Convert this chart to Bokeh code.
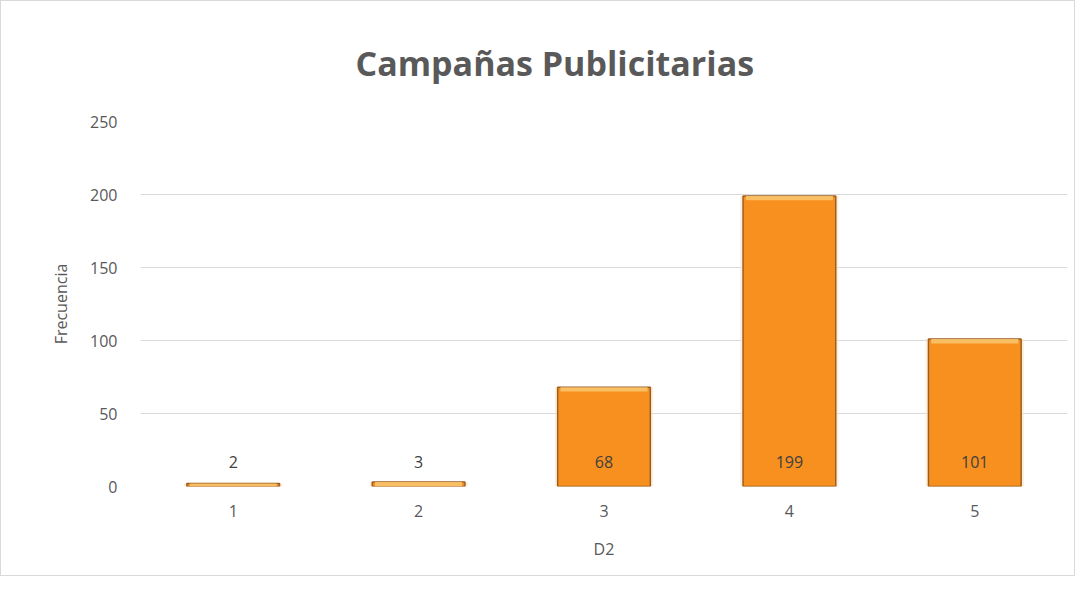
from bokeh.plotting import figure
from bokeh.models import ColumnDataSource, Range1d, FactorRange, LabelSet
from bokeh.core.properties import value
from bokeh.embed import file_html
from bokeh.resources import INLINE

categories = ["1", "2", "3", "4", "5"]
values = [2, 3, 68, 199, 101]
y_ticks = [0, 50, 100, 150, 200, 250]

title_text = "Campañas Publicitarias"
x_title = "D2"
y_title = "Frecuencia"

FONT = "Open Sans"

src = ColumnDataSource(dict(
    cat=categories,
    val=values,
    lbl=[str(v) for v in values],
    hi_bottom=[max(v - 3, 0) for v in values],
    lbl_y=[0] * len(values),
))

W, H = 1075, 576
ML, MR, MT, MB = 139, 9, 118, 91

p = figure(
    width=W, height=H,
    x_range=FactorRange(*categories, range_padding=0),
    y_range=Range1d(0, 250),
    output_backend="svg", toolbar_location=None,
    min_border_left=ML, min_border_right=MR,
    min_border_top=MT, min_border_bottom=MB,
    title=title_text,
)
p.styles = {"border": "1px solid #d9d9d9"}
p.outline_line_color = None
p.background_fill_color = "white"
p.border_fill_color = "white"

p.title.text_font = FONT
p.title.text_font_size = "34px"
p.title.text_font_style = "bold"
p.title.text_color = "#595959"
p.title.align = "left"
p.title.offset = 215
p.title.standoff = 72

# glow
p.vbar(x="cat", top="val", bottom=0, width=0.53, source=src,
       fill_color="#FDE3C4", fill_alpha=0.6, line_color=None)
# main bar
p.vbar(x="cat", top="val", bottom=0, width=0.5, source=src,
       fill_color="#F7901F", line_color="#9A5E22", line_width=1.5)
# top highlight
p.vbar(x="cat", top="val", bottom="hi_bottom", width=0.47, source=src,
       fill_color="#FBC46A", line_color=None, fill_alpha=0.9)

labels = LabelSet(x="cat", y="lbl_y", text="lbl", source=src,
                  text_align="center", text_baseline="middle",
                  y_offset=25, text_font=value(FONT), text_font_size="16px",
                  text_color="#404040")
p.add_layout(labels)

p.yaxis.ticker = y_ticks
p.ygrid.ticker = y_ticks
p.ygrid.grid_line_color = "#d9d9d9"
p.ygrid.grid_line_width = 1
p.xgrid.grid_line_color = None

for ax in (p.xaxis[0], p.yaxis[0]):
    ax.axis_line_color = None
    ax.major_tick_line_color = None
    ax.minor_tick_line_color = None
    ax.major_label_text_font = FONT
    ax.major_label_text_font_size = "16px"
    ax.major_label_text_color = "#595959"
    ax.axis_label_text_font = FONT
    ax.axis_label_text_font_size = "16px"
    ax.axis_label_text_color = "#595959"
    ax.axis_label_text_font_style = "normal"

p.yaxis.axis_label = y_title
p.xaxis.axis_label = x_title
p.yaxis.major_label_standoff = 17
p.xaxis.major_label_standoff = 12
p.yaxis.axis_label_standoff = 15
p.xaxis.axis_label_standoff = 18

open("out.html", "w").write(file_html(p, INLINE))
